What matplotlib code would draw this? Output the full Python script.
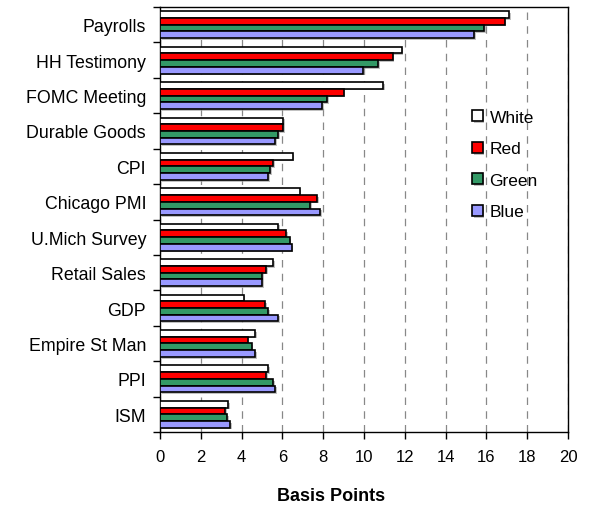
import matplotlib.pyplot as plt
import matplotlib.patheffects as pe
import numpy as np

plt.rcParams['font.family'] = ['Liberation Sans', 'DejaVu Sans']

categories = ["Payrolls", "HH Testimony", "FOMC Meeting", "Durable Goods", "CPI",
              "Chicago PMI", "U.Mich Survey", "Retail Sales", "GDP",
              "Empire St Man", "PPI", "ISM"]
white = [17.1, 11.85, 10.95, 6.05, 6.5, 6.85, 5.8, 5.55, 4.1, 4.65, 5.3, 3.35]
red = [16.9, 11.4, 9.0, 6.05, 5.55, 7.7, 6.2, 5.2, 5.15, 4.3, 5.2, 3.2]
green = [15.9, 10.7, 8.2, 5.8, 5.4, 7.35, 6.35, 5.0, 5.3, 4.5, 5.55, 3.3]
blue = [15.4, 9.95, 7.95, 5.65, 5.3, 7.85, 6.45, 5.0, 5.8, 4.65, 5.65, 3.45]

series = [("White", white, "#ffffff"), ("Red", red, "#ff0000"),
          ("Green", green, "#339966"), ("Blue", blue, "#9999ff")]

fig = plt.figure(figsize=(5.94, 5.06), dpi=100)
ax = fig.add_axes([160 / 594, 1 - 433 / 506, 408 / 594, 425 / 506])

y = np.arange(len(categories))
h = 0.19
shadow = [pe.SimplePatchShadow(offset=(1.2, -1.2), shadow_rgbFace="#999999", alpha=0.6), pe.Normal()]
for k, (name, vals, col) in enumerate(series):
    bars = ax.barh(y - 1.5 * h + k * h, vals, height=h, color=col,
                   edgecolor="black", linewidth=1.2, label=name, zorder=3)
    for b in bars:
        b.set_path_effects(shadow)

ax.set_xlim(0, 20)
ax.set_ylim(len(categories) - 0.5, -0.5)
ax.set_xticks(np.arange(0, 21, 2))
ax.set_yticks(y)
ax.set_yticklabels(categories)
ax.set_yticks(np.arange(-0.5, len(categories), 1), minor=True)
ax.tick_params(axis="y", which="major", length=0, pad=10, labelsize=12.8)
ax.tick_params(axis="y", which="minor", length=5, width=1, direction="out")
ax.tick_params(axis="x", length=5, width=1, direction="out", labelsize=12, pad=7)

ax.grid(axis="x", color="#888888", linestyle=(0, (6, 5)), linewidth=0.9, zorder=0)
for s in ax.spines.values():
    s.set_linewidth(1.0)
    s.set_color("black")

ax.set_xlabel("Basis Points", fontsize=13, fontweight="bold", labelpad=17, x=0.42)

ax.legend(loc="upper left", bbox_to_anchor=(0.748, 0.774), frameon=False,
          fontsize=12.5, handlelength=0.6, handleheight=0.6,
          handletextpad=0.4, labelspacing=0.95, borderaxespad=0)

fig.savefig("out.png", dpi=100)
